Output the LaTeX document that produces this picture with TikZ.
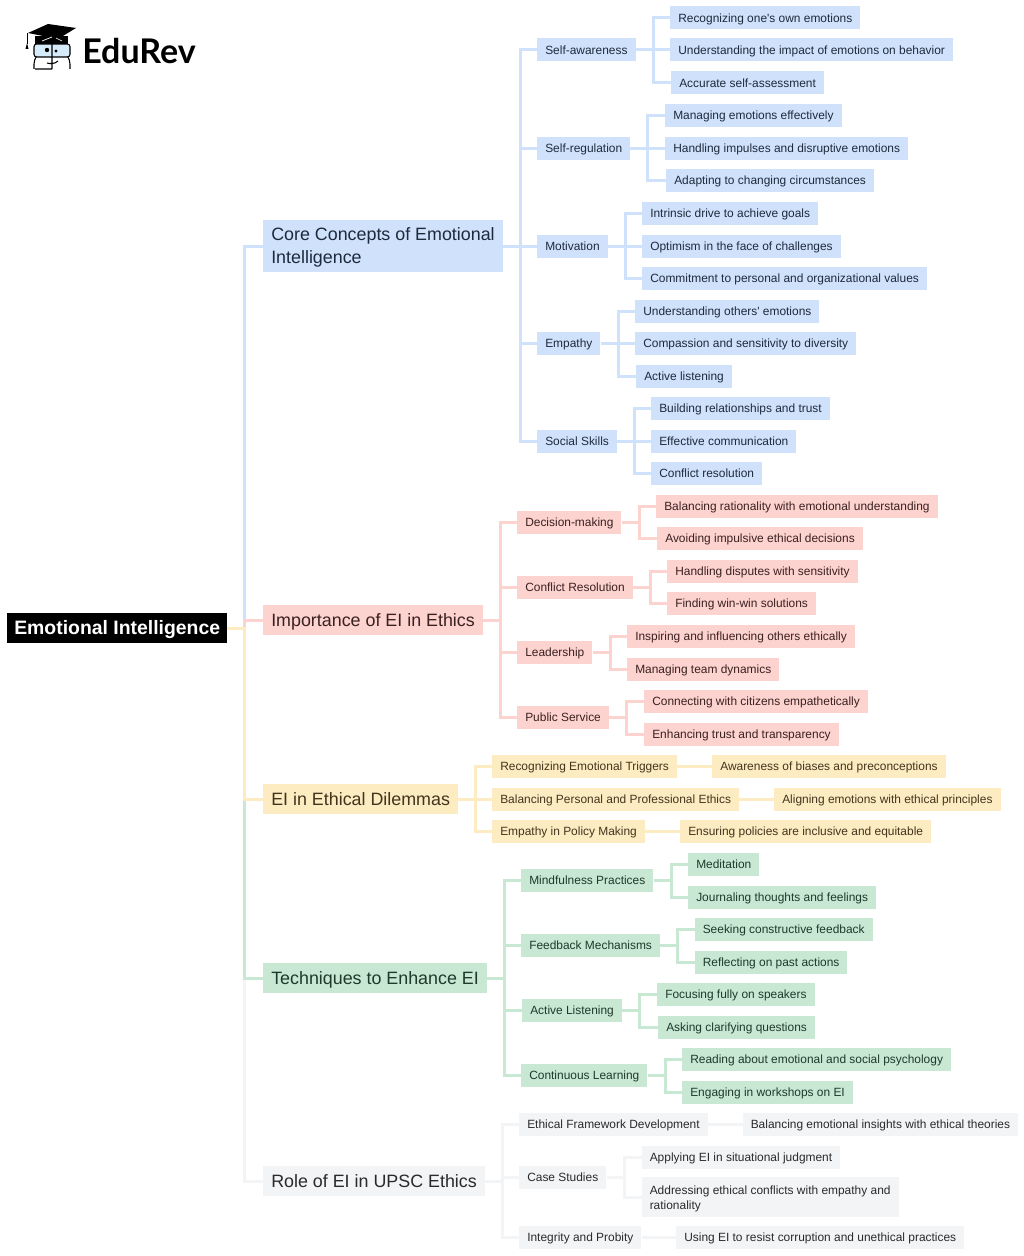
\documentclass[tikz,border=0pt]{standalone}
\usepackage{fontspec}
\setmainfont{Liberation Sans}
\newfontfamily\logofont{Lato}
\definecolor{blueC}{HTML}{D0E2FB}
\definecolor{blueT}{HTML}{1E2A3C}
\definecolor{pinkC}{HTML}{FDD3D0}
\definecolor{pinkT}{HTML}{3A2020}
\definecolor{yellowC}{HTML}{FDEBC2}
\definecolor{yellowT}{HTML}{44341C}
\definecolor{greenC}{HTML}{C9E8D4}
\definecolor{greenT}{HTML}{1E3A2A}
\definecolor{greyC}{HTML}{F3F4F6}
\definecolor{greyT}{HTML}{2A2A2A}
\definecolor{glassC}{HTML}{D6EBFA}
\tikzset{
  leaf/.style={anchor=west,inner xsep=6pt,inner ysep=0pt,text height=7.8pt,text depth=0.8pt,
    minimum height=17.25pt,font=\fontsize{8.95}{11}\selectfont},
  leaftwo/.style={anchor=west,inner xsep=6pt,inner ysep=0pt,minimum height=29.5pt,align=left,
    font=\fontsize{8.95}{11.6}\selectfont},
  head/.style={anchor=west,inner xsep=6pt,inner ysep=0pt,text height=11pt,text depth=1.5pt,
    minimum height=22pt,font=\fontsize{13.4}{17}\selectfont},
  headtwo/.style={anchor=west,inner xsep=6pt,inner ysep=0pt,minimum height=39pt,align=left,
    font=\fontsize{13.4}{17.3}\selectfont},
  rootbox/.style={anchor=west,fill=black,text=white,inner xsep=5.25pt,inner ysep=0pt,
    text height=11.5pt,text depth=1.5pt,minimum height=22.5pt,font=\fontsize{14.55}{17}\selectfont\bfseries},
  bluebox/.style={fill=blueC,text=blueT},
  pinkbox/.style={fill=pinkC,text=pinkT},
  yellowbox/.style={fill=yellowC,text=yellowT},
  greenbox/.style={fill=greenC,text=greenT},
  greybox/.style={fill=greyC,text=greyT},
  link/.style={line width=2.25pt},
  branch/.style={to path={-- ++(17.5,0) |- (\tikztotarget)}},
}
\begin{document}
\begin{tikzpicture}[x=0.75pt,y=-0.75pt]
  \useasboundingbox (0,0) rectangle (1024,1256);
  % logo
  \draw[fill=glassC,line width=0.8pt,rounded corners=2pt] (34,44) rectangle (70,57);
  \draw[line width=0.8pt,rounded corners=3pt] (36,57) -- (34,60) -- (34,69) (68,57) -- (70,60) -- (70,69);
  \draw[line width=0.8pt] (35,69) -- (52,69) (52,44) -- (52,69) (47,63) .. controls (50,64) and (55,64) .. (58,61);
  \fill[black] (35,36) -- (35,44) -- (68,44) -- (68,36) -- cycle;
  \fill[black] (28,33) -- (48,24) -- (76,28) -- (58,39) -- cycle;
  \draw[white,line width=0.5pt] (42,41) -- (52,37) (56,38) -- (62,41);
  \draw[line width=0.7pt] (27,33) -- (27,44);
  \fill[black] (27,43) -- (25.5,49) -- (28.5,49) -- cycle;
  \fill (47,50) circle[radius=2.2];
  \fill (56,51) circle[radius=1.7];
  \node[anchor=west,inner sep=0pt,font=\logofont\fontsize{25.5}{30}\selectfont\bfseries] (brand) at (82,51) {EduRev};
  % root and main branches
  \node[rootbox] (root) at (7,628) {Emotional Intelligence};
  \node[bluebox,headtwo] (core) at (263,246) {\rule{0pt}{11.3pt}Core Concepts of Emotional\\Intelligence};
  \node[head,pinkbox] (importance) at (263,620) {Importance of EI in Ethics};
  \node[head,yellowbox] (dilemmas) at (263,799) {EI in Ethical Dilemmas};
  \node[head,greenbox] (techniques) at (263,978) {Techniques to Enhance EI};
  \node[head,greybox] (role) at (263,1181) {Role of EI in UPSC Ethics};
  % core concepts
  \node[leaf,bluebox] (selfaware) at (537,50) {Self-awareness};
  \node[leaf,bluebox] (selfreg) at (537,148) {Self-regulation};
  \node[leaf,bluebox] (motivation) at (537,246) {Motivation};
  \node[leaf,bluebox] (empathy) at (537,343) {Empathy};
  \node[leaf,bluebox] (social) at (537,441) {Social Skills};
  \node[leaf,bluebox] (selfawareA) at (670,18) {Recognizing one\textquotesingle s own emotions};
  \node[leaf,bluebox] (selfawareB) at (670,50) {Understanding the impact of emotions on behavior};
  \node[leaf,bluebox] (selfawareC) at (671,83) {Accurate self-assessment};
  \node[leaf,bluebox] (selfregA) at (665,115) {Managing emotions effectively};
  \node[leaf,bluebox] (selfregB) at (665,148) {Handling impulses and disruptive emotions};
  \node[leaf,bluebox] (selfregC) at (666,180) {Adapting to changing circumstances};
  \node[leaf,bluebox] (motivationA) at (642,213) {Intrinsic drive to achieve goals};
  \node[leaf,bluebox] (motivationB) at (642,246) {Optimism in the face of challenges};
  \node[leaf,bluebox] (motivationC) at (642,278) {Commitment to personal and organizational values};
  \node[leaf,bluebox] (empathyA) at (635,311) {Understanding others\textquotesingle{} emotions};
  \node[leaf,bluebox] (empathyB) at (635,343) {Compassion and sensitivity to diversity};
  \node[leaf,bluebox] (empathyC) at (636,376) {Active listening};
  \node[leaf,bluebox] (socialA) at (651,408) {Building relationships and trust};
  \node[leaf,bluebox] (socialB) at (651,441) {Effective communication};
  \node[leaf,bluebox] (socialC) at (651,473) {Conflict resolution};
  % importance
  \node[leaf,pinkbox] (decision) at (517,522) {Decision-making};
  \node[leaf,pinkbox] (conflict) at (517,587) {Conflict Resolution};
  \node[leaf,pinkbox] (leadership) at (517,652) {Leadership};
  \node[leaf,pinkbox] (service) at (517,717) {Public Service};
  \node[leaf,pinkbox] (decisionA) at (656,506) {Balancing rationality with emotional understanding};
  \node[leaf,pinkbox] (decisionB) at (657,538) {Avoiding impulsive ethical decisions};
  \node[leaf,pinkbox] (conflictA) at (667,571) {Handling disputes with sensitivity};
  \node[leaf,pinkbox] (conflictB) at (667,603) {Finding win-win solutions};
  \node[leaf,pinkbox] (leadershipA) at (627,636) {Inspiring and influencing others ethically};
  \node[leaf,pinkbox] (leadershipB) at (627,669) {Managing team dynamics};
  \node[leaf,pinkbox] (serviceA) at (644,701) {Connecting with citizens empathetically};
  \node[leaf,pinkbox] (serviceB) at (644,734) {Enhancing trust and transparency};
  % dilemmas
  \node[leaf,yellowbox] (triggers) at (492,766) {Recognizing Emotional Triggers};
  \node[leaf,yellowbox] (balance) at (492,799) {Balancing Personal and Professional Ethics};
  \node[leaf,yellowbox] (policy) at (492,831) {Empathy in Policy Making};
  \node[leaf,yellowbox] (triggersA) at (712,766) {Awareness of biases and preconceptions};
  \node[leaf,yellowbox] (balanceA) at (774,799) {Aligning emotions with ethical principles};
  \node[leaf,yellowbox] (policyA) at (680,831) {Ensuring policies are inclusive and equitable};
  % techniques
  \node[leaf,greenbox] (mindful) at (521,880) {Mindfulness Practices};
  \node[leaf,greenbox] (feedback) at (521,945) {Feedback Mechanisms};
  \node[leaf,greenbox] (listening) at (522,1010) {Active Listening};
  \node[leaf,greenbox] (learning) at (521,1075) {Continuous Learning};
  \node[leaf,greenbox] (mindfulA) at (688,864) {Meditation};
  \node[leaf,greenbox] (mindfulB) at (688,897) {Journaling thoughts and feelings};
  \node[leaf,greenbox] (feedbackA) at (694.5,929) {Seeking constructive feedback};
  \node[leaf,greenbox] (feedbackB) at (694.5,962) {Reflecting on past actions};
  \node[leaf,greenbox] (listeningA) at (657,994) {Focusing fully on speakers};
  \node[leaf,greenbox] (listeningB) at (658,1027) {Asking clarifying questions};
  \node[leaf,greenbox] (learningA) at (682,1059) {Reading about emotional and social psychology};
  \node[leaf,greenbox] (learningB) at (682,1092) {Engaging in workshops on EI};
  % upsc
  \node[leaf,greybox] (framework) at (519,1124) {Ethical Framework Development};
  \node[leaf,greybox] (cases) at (519,1177) {Case Studies};
  \node[leaf,greybox] (probity) at (519,1237) {Integrity and Probity};
  \node[leaf,greybox] (frameworkA) at (742.5,1124) {Balancing emotional insights with ethical theories};
  \node[leaf,greybox] (casesA) at (641.5,1157) {Applying EI in situational judgment};
  \node[leaftwo,greybox] (casesB) at (641.5,1197) {\rule{0pt}{9.5pt}Addressing ethical conflicts with empathy and\\rationality};
  \node[leaf,greybox] (probityA) at (676,1237) {Using EI to resist corruption and unethical practices};
  % connectors
  \draw[link,greyC] (root.east) to[branch] (role.west);
  \draw[link,greenC] (root.east) to[branch] (techniques.west);
  \draw[link,blueC] (root.east) to[branch] (core.west);
  \draw[link,pinkC] (root.east) to[branch] (importance.west);
  \draw[link,yellowC] (root.east) to[branch] (dilemmas.west);
  \foreach \kid in {selfaware,selfreg,motivation,empathy,social}
    \draw[link,blueC] (core.east) to[branch] (\kid.west);
  \foreach \kid in {A,B,C} {
    \draw[link,blueC] (selfaware.east) to[branch] (selfaware\kid.west);
    \draw[link,blueC] (selfreg.east) to[branch] (selfreg\kid.west);
    \draw[link,blueC] (motivation.east) to[branch] (motivation\kid.west);
    \draw[link,blueC] (empathy.east) to[branch] (empathy\kid.west);
    \draw[link,blueC] (social.east) to[branch] (social\kid.west);
  }
  \foreach \kid in {decision,conflict,leadership,service} {
    \draw[link,pinkC] (importance.east) to[branch] (\kid.west);
    \draw[link,pinkC] (\kid.east) to[branch] (\kid A.west);
    \draw[link,pinkC] (\kid.east) to[branch] (\kid B.west);
  }
  \foreach \kid in {triggers,balance,policy} {
    \draw[link,yellowC] (dilemmas.east) to[branch] (\kid.west);
    \draw[link,yellowC] (\kid.east) -- (\kid A.west);
  }
  \foreach \kid in {mindful,feedback,listening,learning} {
    \draw[link,greenC] (techniques.east) to[branch] (\kid.west);
    \draw[link,greenC] (\kid.east) to[branch] (\kid A.west);
    \draw[link,greenC] (\kid.east) to[branch] (\kid B.west);
  }
  \foreach \kid in {framework,cases,probity}
    \draw[link,greyC] (role.east) to[branch] (\kid.west);
  \draw[link,greyC] (framework.east) -- (frameworkA.west);
  \draw[link,greyC] (cases.east) to[branch] (casesA.west);
  \draw[link,greyC] (cases.east) to[branch] (casesB.west);
  \draw[link,greyC] (probity.east) -- (probityA.west);
\end{tikzpicture}
\end{document}
